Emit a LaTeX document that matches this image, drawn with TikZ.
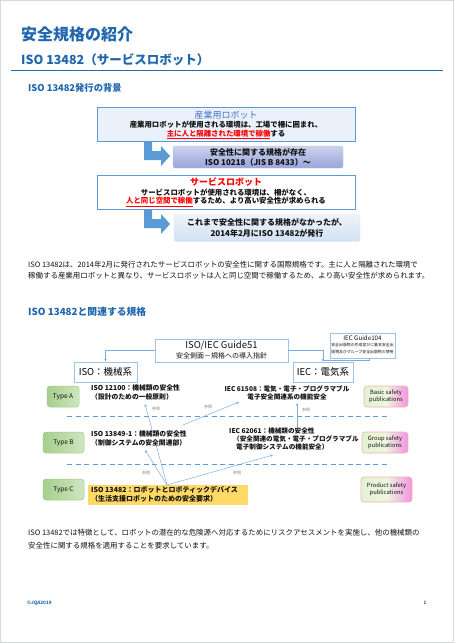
\documentclass[tikz,border=0pt]{standalone}
\usepackage{fontspec}
\setmainfont{Noto Sans CJK JP}
\usetikzlibrary{arrows.meta}
\definecolor{hblue}{HTML}{1F66AE}
\definecolor{rulecol}{HTML}{1F6DB5}
\definecolor{boxblue}{HTML}{5B9BD5}
\definecolor{box1fill}{HTML}{EAF1FA}
\definecolor{hdrblue}{HTML}{4472C4}
\definecolor{redtxt}{HTML}{FF0000}
\definecolor{lineblue}{HTML}{9DC3E6}
\definecolor{arrblue}{HTML}{7EAEDF}
\definecolor{greenL}{HTML}{A6CF8C}
\definecolor{greenR}{HTML}{CFE6C0}
\definecolor{greenB}{HTML}{A3C98C}
\definecolor{pubL}{HTML}{E2F2D2}
\definecolor{pubM}{HTML}{EEF6DF}
\definecolor{pubR}{HTML}{F293E2}
\definecolor{pubB}{HTML}{F3B2A6}
\definecolor{yel}{HTML}{FFD966}
\definecolor{frame}{HTML}{D3D8DE}
\definecolor{refgray}{HTML}{808080}
\definecolor{txt}{HTML}{111111}
\definecolor{b2top}{HTML}{CBD2EE}
\definecolor{b2bot}{HTML}{9AA5DA}
\definecolor{b2draw}{HTML}{B4BDE3}
\definecolor{b4top}{HTML}{EDF2FA}
\definecolor{b4bot}{HTML}{D3E1F3}
\definecolor{b4draw}{HTML}{DCE6F3}
\newcommand\fsz[1]{\fontsize{#1}{#1}\selectfont}
\begin{document}
\begin{tikzpicture}[x=1pt,y=-1pt,
  txtnode/.style={inner sep=0pt,text=txt},
  guidebox/.style={draw=lineblue,line width=0.8pt,fill=white,inner sep=0pt},
  typebox/.style={draw=greenB,line width=0.5pt,rounded corners=3pt,left color=greenL,right color=greenR,inner sep=0pt,minimum height=21pt,font=\fsz{6.5},text=txt},
  pubbox/.style={draw=pubB,line width=0.6pt,rounded corners=3pt,left color=pubL,right color=pubR,middle color=pubM,inner sep=0pt,minimum height=21pt,align=center,font=\fsz{5.8},text=txt},
  thinarrow/.style={draw=arrblue,line width=0.5pt,-{Stealth[length=3pt,width=2.6pt]}},
  refl/.style={inner sep=0pt,font=\fsz{4},text=refgray},
  blockarrow/.style={fill=boxblue,draw=none},
  dashline/.style={draw=boxblue,line width=1pt,dash pattern=on 5pt off 3.5pt}
]
\useasboundingbox (0,0) rectangle (454,643);
\draw[frame,line width=1.2pt] (0.6,0.6) rectangle (453.4,642.4);

% headings
\node[txtnode,anchor=west,text=hblue,font=\fsz{16}\bfseries] (title) at (21,34) {安全規格の紹介};
\node[txtnode,anchor=west,text=hblue,font=\fsz{12.5}\bfseries] (sub) at (21,60) {ISO 13482（サービスロボット）};
\coordinate (rl) at (11,70.5);
\coordinate (rr) at (443,70.5);
\draw[rulecol,line width=1.6pt] (rl) -- (rr);
\node[txtnode,anchor=west,text=hblue,font=\fsz{9.3}\bfseries] (h1) at (28,88) {ISO 13482発行の背景};

% box 1
\node[draw=boxblue,line width=1pt,fill=box1fill,minimum width=258pt,minimum height=34pt,inner sep=0pt] (b1) at (226,124) {};
\node[txtnode,text=hdrblue,font=\fsz{9}] (b1a) at (226,115) {産業用ロボット};
\node[txtnode,font=\fsz{7.4}\bfseries] (b1b) at (226,125) {産業用ロボットが使用される環境は、工場で柵に囲まれ、};
\node[txtnode,font=\fsz{7.4}\bfseries] (b1c) at (226,134.5) {\textcolor{redtxt}{\underline{主に人と隔離された環境で稼働}}する};

% arrow 1
\fill[blockarrow] (144,141) -- (152,141) -- (152,151) -- (161,151) -- (161,146) -- (170,156) -- (161,166) -- (161,160) -- (144,160) -- cycle;

% box 2
\node[rounded corners=2pt,top color=b2top,bottom color=b2bot,draw=b2draw,line width=0.4pt,minimum width=170pt,minimum height=22pt,inner sep=0pt] (b2) at (258,157) {};
\node[txtnode,font=\fsz{8}\bfseries] (b2a) at (258,152) {安全性に関する規格が存在};
\node[txtnode,font=\fsz{8}\bfseries] (b2b) at (258,162.5) {ISO 10218（JIS B 8433）～};

% box 3
\node[draw=boxblue,line width=1pt,fill=white,minimum width=258pt,minimum height=34pt,inner sep=0pt] (b3) at (226,192) {};
\node[txtnode,text=redtxt,font=\fsz{9}\bfseries] (b3a) at (226,182.5) {サービスロボット};
\node[txtnode,font=\fsz{7.4}\bfseries] (b3b) at (226,192.5) {サービスロボットが使用される環境は、柵がなく、};
\node[txtnode,font=\fsz{7.4}\bfseries] (b3c) at (226,202) {\textcolor{redtxt}{\underline{人と同じ空間で稼働}}するため、より高い安全性が求められる};

% arrow 2
\fill[blockarrow] (144,209) -- (152,209) -- (152,219) -- (161,219) -- (161,214) -- (170,224) -- (161,234) -- (161,228) -- (144,228) -- cycle;

% box 4
\node[rounded corners=2pt,top color=b4top,bottom color=b4bot,draw=b4draw,line width=0.4pt,minimum width=186pt,minimum height=27pt,inner sep=0pt] (b4) at (267,228) {};
\node[txtnode,font=\fsz{8}\bfseries] (b4a) at (267,222) {これまで安全性に関する規格がなかったが、};
\node[txtnode,font=\fsz{8}\bfseries] (b4b) at (267,233) {2014年2月にISO 13482が発行};

% paragraph 1
\node[txtnode,anchor=west,font=\fsz{7.45}] (p1a) at (28,265) {ISO 13482は、2014年2月に発行されたサービスロボットの安全性に関する国際規格です。主に人と隔離された環境で};
\node[txtnode,anchor=west,font=\fsz{7.45}] (p1b) at (28,275.5) {稼働する産業用ロボットと異なり、サービスロボットは人と同じ空間で稼働するため、より高い安全性が求められます。};

\node[txtnode,anchor=west,text=hblue,font=\fsz{9.8}\bfseries] (h2) at (28,312) {ISO 13482と関連する規格};

% guides
\node[guidebox,minimum width=133pt,minimum height=23pt] (g51) at (221.5,350.5) {};
\node[txtnode,font=\fsz{9.5}] (g51a) at (221.5,346) {ISO/IEC Guide51};
\node[txtnode,font=\fsz{7}] (g51b) at (221.5,355.5) {安全側面－規格への導入指針};
\node[guidebox,minimum width=65pt,minimum height=25pt] (g104) at (362.5,345.5) {};
\node[txtnode,font=\fsz{6.2}] (g104a) at (362.5,338) {IEC Guide104};
\node[txtnode,font=\fsz{3.9}] (g104b) at (362.5,345.5) {安全出版物の作成並びに基本安全出};
\node[txtnode,font=\fsz{3.9}] (g104c) at (362.5,352.5) {版物及びグループ安全出版物の使用};

\node[guidebox,minimum width=63pt,minimum height=20pt,font=\fsz{9.5}] (iso) at (105.5,372) {ISO：機械系};
\node[guidebox,minimum width=60pt,minimum height=20pt,font=\fsz{9.5}] (iec) at (323,372) {IEC：電気系};

\draw[thinarrow] (g51.west) -| (iso.north);
\draw[thinarrow] (g51.east) -| (iec.north);
\coordinate (j104) at (323,360);
\draw[arrblue,line width=0.5pt] ([xshift=7pt]g104.south) |- (j104);

% type boxes
\node[typebox,minimum width=32pt] (ta) at (63,396.5) {Type A};
\node[typebox,minimum width=41pt] (tb) at (63.5,442.5) {Type B};
\node[typebox,minimum width=41pt] (tc) at (63.5,489.5) {Type C};

\node[pubbox,minimum width=44pt] (pa) at (386,396.5) {Basic safety\\publications};
\node[pubbox,minimum width=46pt] (pb) at (385,442.5) {Group safety\\publications};
\node[pubbox,minimum width=51pt,minimum height=25pt] (pc) at (386.5,489.5) {Product safety\\publications};

% dashed separators
\coordinate (d1l) at (67,416);
\coordinate (d1r) at (388,416);
\coordinate (d2l) at (67,464);
\coordinate (d2r) at (388,464);
\draw[dashline] (d1l) -- (d1r);
\draw[dashline] (d2l) -- (d2r);

% standard texts
\node[txtnode,anchor=west,align=left,font=\fsz{6.8}\bfseries] (n12100) at (91,392.5) {ISO 12100：機械類の安全性\\[1.6pt]（設計のための一般原則）};
\node[txtnode,align=center,font=\fsz{6.6}\bfseries] (n61508) at (287,393) {IEC 61508：電気・電子・プログラマブル\\[1.6pt]電子安全関連系の機能安全};

% yellow box
\node[fill=yel,minimum width=160pt,minimum height=20pt,inner sep=0pt] (n13482) at (168,495) {};
\node[txtnode,anchor=west,align=left,font=\fsz{7}\bfseries] (n13482t) at (91,494.5) {ISO 13482：ロボットとロボティックデバイス\\[1.6pt]（生活支援ロボットのための安全要求）};

% connectors from ISO 13482
\coordinate (P) at (167,485);
\coordinate (t12100) at (145,404);
\coordinate (t13849) at (145,450);
\coordinate (t62061) at (273,455);
\coordinate (s13849) at (183,425);
\coordinate (t61508a) at (239,402);
\coordinate (s62061) at (297,427);
\coordinate (t61508b) at (297,403);
\draw[thinarrow] (P) -- (t12100);

\node[txtnode,anchor=west,align=left,fill=white,font=\fsz{6.8}\bfseries] (n13849) at (91,438.5) {ISO 13849-1：機械類の安全性\\[1.6pt]（制御システムの安全関連部）};
\node[txtnode,anchor=west,align=left,font=\fsz{6.6}\bfseries] (n62061) at (229,439) {IEC 62061：機械類の安全性\\[1.3pt]\hspace{4pt}（安全関連の電気・電子・プログラマブル\\[1.3pt]\hspace{7pt}電子制御システムの機能安全）};

\draw[thinarrow] (P) -- (t13849);
\draw[thinarrow] (P) -- (t62061);
\draw[thinarrow] (s13849) -- (t61508a);
\draw[thinarrow] (s62061) -- (t61508b);

\node[refl] (r1) at (156,409) {参照};
\node[refl] (r2) at (208,407) {参照};
\node[refl] (r3) at (306,410) {参照};
\node[refl] (r4) at (146,473) {参照};
\node[refl] (r5) at (237,473) {参照};

% paragraph 2
\node[txtnode,anchor=west,font=\fsz{7.45}] (p2a) at (28,533) {ISO 13482では特徴として、ロボットの潜在的な危険源へ対応するためにリスクアセスメントを実施し、他の機械類の};
\node[txtnode,anchor=west,font=\fsz{7.45}] (p2b) at (28,546) {安全性に関する規格を適用することを要求しています。};

% footer
\node[txtnode,anchor=west,text=hblue,font=\fsz{4.6}\bfseries] (foot) at (27,603) {©JQA2019};
\node[txtnode,text=hblue,font=\fsz{4.6}\bfseries] (pg) at (425,603) {1};
\end{tikzpicture}
\end{document}
